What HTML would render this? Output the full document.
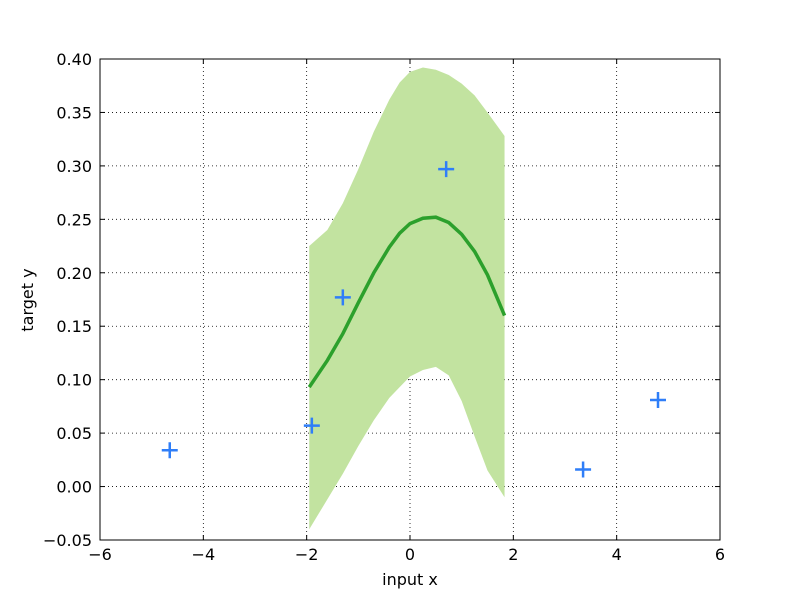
<!DOCTYPE html>
<html><head><meta charset="utf-8"><style>
body{margin:0;background:#fff;}
svg text{font-family:"DejaVu Sans","Liberation Sans",sans-serif;font-size:16px;fill:#000;}
</style></head><body>
<svg width="800" height="600" xmlns="http://www.w3.org/2000/svg">
<rect x="0" y="0" width="800" height="600" fill="#fff"/>
<g id="grid"></g>
<g id="band"></g>
<g id="line"></g>
<g id="pts"></g>
<rect x="100" y="59" width="620" height="481" fill="none" stroke="#000" stroke-width="1"/>
<g id="ticks"></g>
<text x="410" y="585" text-anchor="middle">input x</text>
<text x="33" y="300" text-anchor="middle" transform="rotate(-90 33 300)">target y</text>
</svg>
<script>
const xTicks=[-6,-4,-2,0,2,4,6];
const yTicks=[-0.05,0,0.05,0.10,0.15,0.20,0.25,0.30,0.35,0.40];
const xTickLabels=["\u22126","\u22124","\u22122","0","2","4","6"];
const yTickLabels=["\u22120.05","0.00","0.05","0.10","0.15","0.20","0.25","0.30","0.35","0.40"];
const obsX=[-4.65,-1.9,-1.3,0.7,3.35,4.8];
const obsY=[0.034,0.057,0.177,0.297,0.016,0.081];
const gridX=[-1.95,-1.6,-1.3,-1.0,-0.7,-0.4,-0.2,0,0.25,0.5,0.75,1.0,1.25,1.5,1.83];
const meanY=[0.093,0.118,0.143,0.172,0.2,0.224,0.237,0.246,0.251,0.252,0.247,0.236,0.22,0.198,0.16];
const upperY=[0.225,0.24,0.265,0.297,0.332,0.362,0.378,0.388,0.392,0.39,0.385,0.377,0.366,0.35,0.328];
const lowerY=[-0.04,-0.012,0.012,0.038,0.062,0.083,0.093,0.103,0.109,0.112,0.104,0.08,0.047,0.015,-0.01];
const X=v=>100+(v+6)/12*620, Y=v=>540-(v+0.05)/0.45*481;
const NS="http://www.w3.org/2000/svg";
function mk(t,a,p){const e=document.createElementNS(NS,t);for(const k in a)e.setAttribute(k,a[k]);p.appendChild(e);return e;}
const g=document.getElementById('grid'),tk=document.getElementById('ticks');
xTicks.forEach((v,i)=>{
 const l=mk('line',{x1:X(v),x2:X(v),y1:59,y2:540,stroke:'#000','stroke-dasharray':'1,3','stroke-width':0.8},g);
 
 
 mk('line',{x1:X(v),x2:X(v),y1:540,y2:535,stroke:'#000'},tk);
 mk('line',{x1:X(v),x2:X(v),y1:59,y2:64,stroke:'#000'},tk);
 const t=mk('text',{x:X(v),y:560,'text-anchor':'middle'},tk);t.textContent=xTickLabels[i];
 
 
});
yTicks.forEach((v,i)=>{
 const l=mk('line',{x1:100,x2:720,y1:Y(v),y2:Y(v),stroke:'#000','stroke-dasharray':'1,3','stroke-width':0.8},g);
 
 
 mk('line',{x1:100,x2:105,y1:Y(v),y2:Y(v),stroke:'#000'},tk);
 mk('line',{x1:715,x2:720,y1:Y(v),y2:Y(v),stroke:'#000'},tk);
 const t=mk('text',{x:92,y:Y(v)+6,'text-anchor':'end'},tk);t.textContent=yTickLabels[i];
 
 
});
let d=gridX.map((x,i)=>(i?'L':'M')+X(x)+','+Y(upperY[i])).join('');
for(let i=gridX.length-1;i>=0;i--)d+='L'+X(gridX[i])+','+Y(lowerY[i]);
const b=mk('path',{d:d+'Z',fill:'#c2e3a0'},document.getElementById('band'));


const m=mk('path',{d:gridX.map((x,i)=>(i?'L':'M')+X(x)+','+Y(meanY[i])).join(''),fill:'none',stroke:'#2ca02c','stroke-width':3.5},document.getElementById('line'));


const pg=document.getElementById('pts');
obsX.forEach((x,i)=>{
 const cx=X(x),cy=Y(obsY[i]);
 const p=mk('path',{d:`M${cx-8},${cy}H${cx+8}M${cx},${cy-8}V${cy+8}`,stroke:'#2f7ef8','stroke-width':2.5,fill:'none'},pg);
 
 
});
</script>
</body></html>
